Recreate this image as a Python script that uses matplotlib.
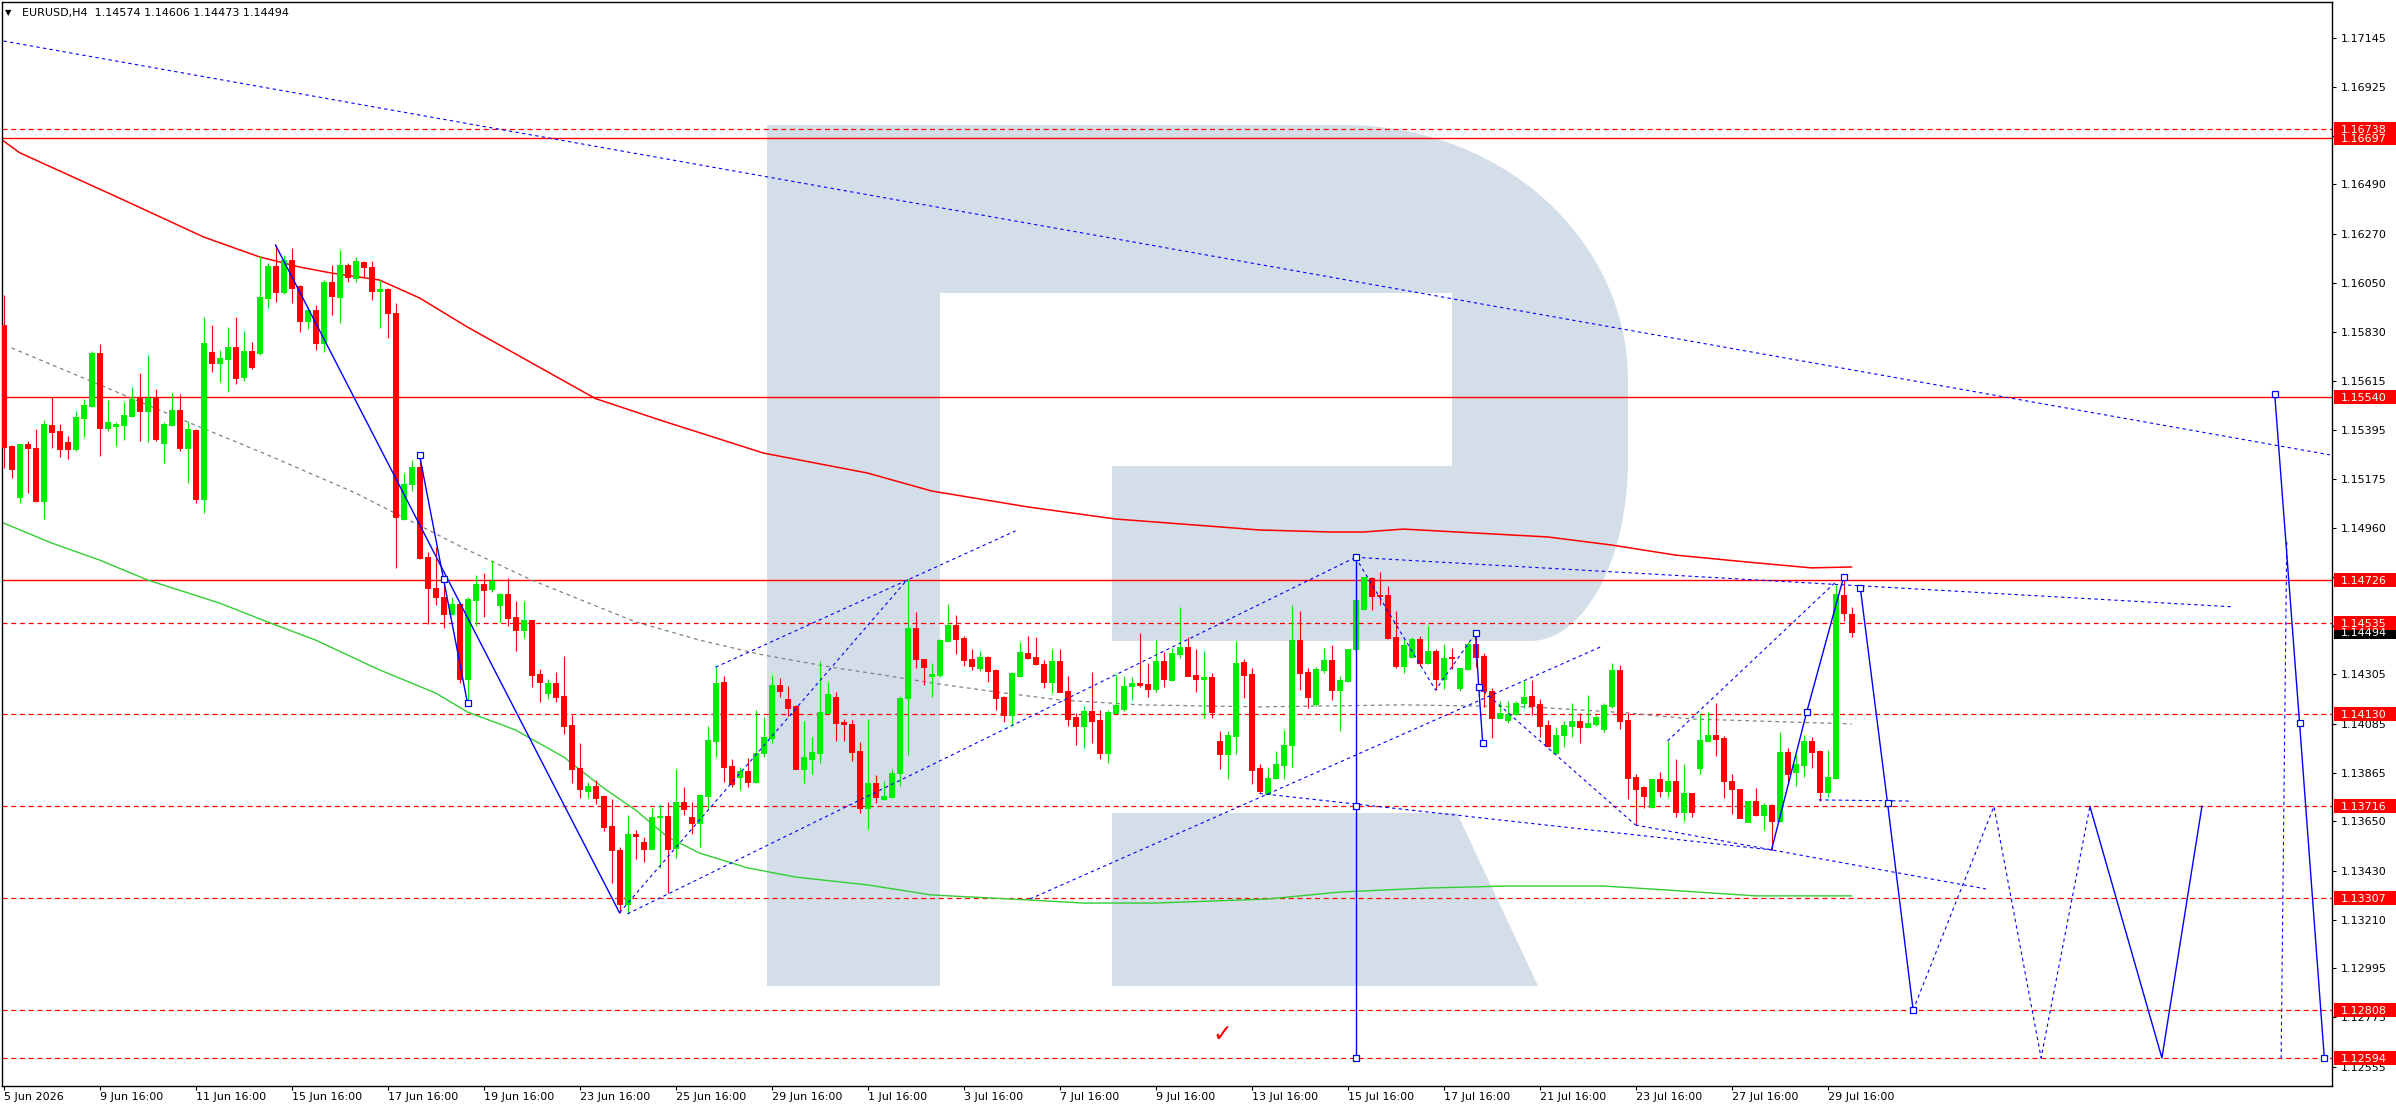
import numpy as np
import matplotlib
matplotlib.use('Agg')
import matplotlib.pyplot as plt
from matplotlib import transforms
from matplotlib.patches import Rectangle, Polygon

plt.rcParams['font.family'] = ['DejaVu Sans']

W, H = 2396, 1110

# EURUSD H4 candles, bar 0 = 5 Jun 2026 16:00
opens = [
    1.15863, 1.15324, 1.15095, 1.15333, 1.15316, 1.15080, 1.15417, 1.15391, 1.15341, 1.15312,
    1.15450, 1.15502, 1.15737, 1.15405, 1.15414, 1.15419, 1.15459, 1.15538, 1.15481, 1.15538,
    1.15338, 1.15417, 1.15484, 1.15316, 1.15395, 1.15088, 1.15743, 1.15695, 1.15712, 1.15765,
    1.15630, 1.15747, 1.15740, 1.15985, 1.16127, 1.16012, 1.16153, 1.16037, 1.15883, 1.15930,
    1.15785, 1.16054, 1.15990, 1.16131, 1.16072, 1.16146, 1.16121, 1.16017, 1.16024, 1.15915,
    1.14997, 1.15153, 1.15228, 1.14827, 1.14689, 1.14649, 1.14573, 1.14619, 1.14283, 1.14637,
    1.14708, 1.14686, 1.14615, 1.14664, 1.14561, 1.14503, 1.14548, 1.14307, 1.14221, 1.14265,
    1.14209, 1.14079, 1.13886, 1.13787, 1.13807, 1.13763, 1.13629, 1.13522, 1.13281, 1.13593,
    1.13558, 1.13526, 1.13668, 1.13673, 1.13532, 1.13736, 1.13671, 1.13644, 1.13764, 1.14009,
    1.14270, 1.13897, 1.13846, 1.13876, 1.13824, 1.13956, 1.14023, 1.14258, 1.14196, 1.14164,
    1.13885, 1.13929, 1.13956, 1.14134, 1.14203, 1.14093, 1.14084, 1.13963, 1.13707, 1.13819,
    1.13748, 1.13760, 1.13864, 1.14198, 1.14511, 1.14373, 1.14298, 1.14302, 1.14455, 1.14525,
    1.14469, 1.14374, 1.14334, 1.14384, 1.14324, 1.14204, 1.14124, 1.14298, 1.14400, 1.14382,
    1.14353, 1.14272, 1.14365, 1.14231, 1.14115, 1.14076, 1.14141, 1.14101, 1.13956, 1.14133,
    1.14149, 1.14254, 1.14266, 1.14262, 1.14239, 1.14365, 1.14280, 1.14397, 1.14427, 1.14302,
    1.14286, 1.14293, 1.14008, 1.13950, 1.14030, 1.14361, 1.14307, 1.13886, 1.13771, 1.13841,
    1.13901, 1.13990, 1.14458, 1.14317, 1.14173, 1.14324, 1.14369, 1.14235, 1.14275, 1.14418,
    1.14597, 1.14736, 1.14659, 1.14659, 1.14472, 1.14344, 1.14384, 1.14463, 1.14357, 1.14409,
    1.14285, 1.14383, 1.14246, 1.14329, 1.14442, 1.14387, 1.14232, 1.14112, 1.14102, 1.14127,
    1.14176, 1.14209, 1.14171, 1.14078, 1.13955, 1.14033, 1.14075, 1.14097, 1.14072, 1.14085,
    1.14061, 1.14165, 1.14325, 1.14102, 1.13846, 1.13801, 1.13712, 1.13838, 1.13786, 1.13830,
    1.13693, 1.13774, 1.13889, 1.14009, 1.14035, 1.14023, 1.13830, 1.13794, 1.13648, 1.13740,
    1.13678, 1.13722, 1.13652, 1.13957, 1.13871, 1.13901, 1.14008, 1.13963, 1.13779, 1.13844,
    1.14658, 1.14574]
highs = [
    1.15997, 1.15328, 1.15333, 1.15347, 1.15398, 1.15440, 1.15544, 1.15422, 1.15368, 1.15481,
    1.15533, 1.15749, 1.15779, 1.15529, 1.15432, 1.15521, 1.15585, 1.15651, 1.15730, 1.15576,
    1.15432, 1.15561, 1.15555, 1.15437, 1.15398, 1.15898, 1.15863, 1.15752, 1.15856, 1.15898,
    1.15838, 1.15786, 1.16171, 1.16139, 1.16220, 1.16176, 1.16205, 1.16042, 1.15942, 1.15953,
    1.16064, 1.16131, 1.16198, 1.16141, 1.16168, 1.16150, 1.16150, 1.16064, 1.16027, 1.15960,
    1.15205, 1.15262, 1.15284, 1.14852, 1.14871, 1.14733, 1.14652, 1.14622, 1.14652, 1.14749,
    1.14756, 1.14811, 1.14667, 1.14734, 1.14633, 1.14633, 1.14548, 1.14329, 1.14283, 1.14316,
    1.14387, 1.14124, 1.14000, 1.13827, 1.13834, 1.13767, 1.13749, 1.13537, 1.13678, 1.13611,
    1.13581, 1.13711, 1.13722, 1.13737, 1.13884, 1.13804, 1.13734, 1.13772, 1.14075, 1.14337,
    1.14298, 1.13926, 1.13893, 1.13931, 1.14146, 1.14117, 1.14302, 1.14290, 1.14253, 1.14169,
    1.14095, 1.14027, 1.14365, 1.14270, 1.14225, 1.14105, 1.14102, 1.14002, 1.14106, 1.13856,
    1.13830, 1.13882, 1.14209, 1.14729, 1.14581, 1.14373, 1.14355, 1.14461, 1.14619, 1.14570,
    1.14476, 1.14418, 1.14409, 1.14388, 1.14327, 1.14208, 1.14317, 1.14449, 1.14478, 1.14472,
    1.14369, 1.14418, 1.14418, 1.14298, 1.14131, 1.14164, 1.14315, 1.14146, 1.14146, 1.14302,
    1.14299, 1.14295, 1.14488, 1.14354, 1.14458, 1.14406, 1.14421, 1.14605, 1.14470, 1.14418,
    1.14409, 1.14310, 1.14052, 1.14052, 1.14454, 1.14372, 1.14332, 1.13905, 1.13890, 1.13963,
    1.14059, 1.14614, 1.14588, 1.14332, 1.14336, 1.14424, 1.14436, 1.14298, 1.14418, 1.14827,
    1.14741, 1.14741, 1.14763, 1.14699, 1.14588, 1.14461, 1.14473, 1.14478, 1.14521, 1.14416,
    1.14442, 1.14424, 1.14332, 1.14451, 1.14488, 1.14402, 1.14243, 1.14187, 1.14184, 1.14187,
    1.14276, 1.14280, 1.14194, 1.14102, 1.14069, 1.14099, 1.14176, 1.14131, 1.14213, 1.14124,
    1.14176, 1.14354, 1.14347, 1.14131, 1.13860, 1.13807, 1.13838, 1.13871, 1.14008, 1.13929,
    1.13906, 1.13774, 1.14127, 1.14139, 1.14176, 1.14030, 1.13860, 1.13794, 1.13740, 1.13797,
    1.13730, 1.13727, 1.14047, 1.13975, 1.13946, 1.14035, 1.14024, 1.13968, 1.13968, 1.14704,
    1.14738, 1.14606]
lows = [
    1.15224, 1.15179, 1.15068, 1.15115, 1.15075, 1.14997, 1.15313, 1.15273, 1.15267, 1.15303,
    1.15362, 1.15499, 1.15281, 1.15389, 1.15325, 1.15350, 1.15452, 1.15347, 1.15343, 1.15347,
    1.15249, 1.15413, 1.15303, 1.15160, 1.15071, 1.15023, 1.15655, 1.15611, 1.15566, 1.15600,
    1.15615, 1.15666, 1.15730, 1.15941, 1.15968, 1.16002, 1.15963, 1.15834, 1.15844, 1.15752,
    1.15744, 1.15908, 1.15874, 1.16057, 1.16057, 1.16076, 1.15975, 1.15851, 1.15807, 1.14778,
    1.14994, 1.15124, 1.14818, 1.14530, 1.14614, 1.14510, 1.14570, 1.14268, 1.14176, 1.14522,
    1.14563, 1.14674, 1.14540, 1.14522, 1.14411, 1.14469, 1.14250, 1.14183, 1.14197, 1.14183,
    1.14038, 1.13822, 1.13755, 1.13755, 1.13726, 1.13608, 1.13373, 1.13242, 1.13237, 1.13482,
    1.13470, 1.13525, 1.13440, 1.13329, 1.13487, 1.13678, 1.13593, 1.13533, 1.13705, 1.13935,
    1.13827, 1.13804, 1.13789, 1.13804, 1.13822, 1.13938, 1.14000, 1.14206, 1.14121, 1.13883,
    1.13819, 1.13859, 1.13908, 1.14131, 1.14009, 1.14009, 1.13920, 1.13685, 1.13614, 1.13733,
    1.13745, 1.13755, 1.13809, 1.13946, 1.14332, 1.14258, 1.14203, 1.14295, 1.14452, 1.14396,
    1.14342, 1.14324, 1.14320, 1.14272, 1.14146, 1.14094, 1.14079, 1.14295, 1.14374, 1.14347,
    1.14246, 1.14223, 1.14225, 1.14076, 1.13990, 1.13978, 1.14000, 1.13926, 1.13908, 1.14131,
    1.14143, 1.14191, 1.14250, 1.14206, 1.14228, 1.14250, 1.14275, 1.14376, 1.14298, 1.14228,
    1.14112, 1.14112, 1.13884, 1.13838, 1.13950, 1.14201, 1.13816, 1.13774, 1.13770, 1.13839,
    1.13839, 1.13893, 1.14235, 1.14156, 1.14165, 1.14312, 1.14191, 1.14054, 1.14272, 1.14414,
    1.14592, 1.14592, 1.14614, 1.14463, 1.14335, 1.14310, 1.14381, 1.14344, 1.14351, 1.14235,
    1.14240, 1.14329, 1.14232, 1.14325, 1.14340, 1.14161, 1.14020, 1.14109, 1.14087, 1.14124,
    1.14154, 1.14124, 1.14025, 1.13980, 1.13952, 1.13983, 1.14025, 1.14001, 1.14067, 1.14075,
    1.14048, 1.14157, 1.14063, 1.13750, 1.13633, 1.13707, 1.13710, 1.13760, 1.13760, 1.13671,
    1.13650, 1.13668, 1.13861, 1.14008, 1.13941, 1.13755, 1.13681, 1.13666, 1.13645, 1.13672,
    1.13611, 1.13522, 1.13648, 1.13814, 1.13806, 1.13846, 1.13887, 1.13742, 1.13760, 1.13838,
    1.14545, 1.14473]
closes = [
    1.15318, 1.15220, 1.15333, 1.15313, 1.15078, 1.15422, 1.15388, 1.15312, 1.15309, 1.15453,
    1.15507, 1.15740, 1.15405, 1.15431, 1.15422, 1.15462, 1.15532, 1.15481, 1.15538, 1.15353,
    1.15422, 1.15484, 1.15316, 1.15398, 1.15088, 1.15782, 1.15692, 1.15715, 1.15765, 1.15628,
    1.15747, 1.15677, 1.15988, 1.16127, 1.16012, 1.16153, 1.16030, 1.15883, 1.15930, 1.15785,
    1.16057, 1.15994, 1.16131, 1.16076, 1.16149, 1.16121, 1.16017, 1.16023, 1.15915, 1.15008,
    1.15154, 1.15228, 1.14823, 1.14689, 1.14649, 1.14573, 1.14619, 1.14283, 1.14640, 1.14708,
    1.14682, 1.14720, 1.14664, 1.14558, 1.14503, 1.14548, 1.14302, 1.14273, 1.14265, 1.14206,
    1.14075, 1.13883, 1.13792, 1.13807, 1.13755, 1.13626, 1.13522, 1.13281, 1.13593, 1.13585,
    1.13526, 1.13669, 1.13673, 1.13526, 1.13736, 1.13705, 1.13644, 1.13767, 1.14013, 1.14265,
    1.13893, 1.13815, 1.13876, 1.13824, 1.13953, 1.14024, 1.14258, 1.14233, 1.14157, 1.13885,
    1.13935, 1.13958, 1.14136, 1.14218, 1.14090, 1.14082, 1.13960, 1.13707, 1.13819, 1.13760,
    1.13763, 1.13864, 1.14198, 1.14511, 1.14373, 1.14337, 1.14307, 1.14458, 1.14525, 1.14461,
    1.14369, 1.14342, 1.14384, 1.14320, 1.14201, 1.14124, 1.14310, 1.14405, 1.14379, 1.14351,
    1.14272, 1.14365, 1.14228, 1.14106, 1.14076, 1.14141, 1.14098, 1.13956, 1.14138, 1.14168,
    1.14253, 1.14266, 1.14259, 1.14239, 1.14365, 1.14283, 1.14400, 1.14427, 1.14298, 1.14286,
    1.14292, 1.14138, 1.13950, 1.14034, 1.14357, 1.14302, 1.13879, 1.13785, 1.13844, 1.13905,
    1.13990, 1.14458, 1.14312, 1.14205, 1.14329, 1.14369, 1.14235, 1.14280, 1.14418, 1.14637,
    1.14739, 1.14654, 1.14654, 1.14469, 1.14342, 1.14436, 1.14463, 1.14357, 1.14409, 1.14285,
    1.14378, 1.14377, 1.14332, 1.14442, 1.14384, 1.14232, 1.14112, 1.14131, 1.14128, 1.14176,
    1.14203, 1.14165, 1.14075, 1.13986, 1.14033, 1.14078, 1.14097, 1.14072, 1.14087, 1.14115,
    1.14169, 1.14325, 1.14099, 1.13844, 1.13795, 1.13764, 1.13838, 1.13786, 1.13830, 1.13693,
    1.13774, 1.13693, 1.14013, 1.14035, 1.14017, 1.13831, 1.13792, 1.13666, 1.13740, 1.13678,
    1.13722, 1.13652, 1.13957, 1.13861, 1.13904, 1.14008, 1.13960, 1.13779, 1.13846, 1.14662,
    1.14577, 1.14494]

# moving averages, read at a handful of bars
ma_red_bars = [0, 2, 15, 25, 32, 37, 41, 47, 52, 58, 74, 82, 95, 108, 116, 128, 139, 149,
               157, 166, 170, 175, 193, 201, 209, 218, 226, 231]
ma_red = [1.16684, 1.16632, 1.16421, 1.16256, 1.16167, 1.16122, 1.16095, 1.16064, 1.15984,
          1.15854, 1.15535, 1.15440, 1.15292, 1.15203, 1.15123, 1.15052, 1.14998, 1.14971,
          1.14949, 1.14940, 1.14940, 1.14953, 1.14918, 1.14882, 1.14837, 1.14806, 1.14780, 1.14784]
ma_gray_bars = [1, 13, 23, 33, 44, 58, 66, 79, 87, 95, 104, 110, 116, 124, 132, 142, 157,
                175, 191, 203, 211, 231]
ma_gray = [1.15761, 1.15582, 1.15431, 1.15284, 1.15114, 1.14860, 1.14726, 1.14539, 1.14458,
           1.14391, 1.14334, 1.14302, 1.14267, 1.14227, 1.14191, 1.14169, 1.14160, 1.14169,
           1.14160, 1.14133, 1.14106, 1.14084]
ma_green_bars = [0, 6, 12, 18, 27, 33, 39, 47, 54, 58, 64, 70, 75, 79, 83, 87, 93, 99, 108,
                 116, 128, 135, 144, 158, 167, 178, 188, 200, 208, 219, 231]
ma_green = [1.14980, 1.14891, 1.14815, 1.14726, 1.14623, 1.14539, 1.14458, 1.14325, 1.14222,
            1.14137, 1.14057, 1.13937, 1.13798, 1.13700, 1.13580, 1.13508, 1.13442, 1.13401,
            1.13366, 1.13321, 1.13299, 1.13285, 1.13285, 1.13303, 1.13334, 1.13352, 1.13361,
            1.13361, 1.13343, 1.13317, 1.13317]

# horizontal levels
levels_solid = [1.16697, 1.15540, 1.14726]
levels_dashed = [1.16738, 1.14535, 1.14130, 1.13716, 1.13307, 1.12808, 1.12594]
last_price = 1.14494

# analyst drawings (bar, price)
dotted_lines = [
    [(0.0, 1.17130), (290.8, 1.15284)],
    [(77, 1.13242), (113, 1.14729)],
    [(78, 1.13237), (169, 1.14827)],
    [(89, 1.14337), (126.5, 1.14945)],
    [(128.3, 1.13303), (199.6, 1.14427)],
    [(169, 1.14827), (278.8, 1.14606)],
    [(169, 1.14827), (179, 1.14235), (184, 1.14488)],
    [(184.4, 1.14249), (204, 1.13633)],
    [(157, 1.13774), (221, 1.13522)],
    [(204, 1.13633), (247.8, 1.13348)],
    [(208, 1.14008), (228.9, 1.14713)],
    [(226.9, 1.13745), (238.4, 1.13740)],
    [(238.7, 1.12808), (248.8, 1.13716), (254.7, 1.12594), (260.8, 1.13716)],
    [(285.4, 1.14896), (284.7, 1.12594)],
]
solid_lines = [
    [(34, 1.16220), (77, 1.13242)],
    [(52, 1.15284), (55, 1.14730), (58, 1.14176)],
    [(169, 1.14827), (169, 1.13716), (169, 1.12594)],
    [(184, 1.14488), (184.4, 1.14249), (184.9, 1.13999)],
    [(221, 1.13522), (225.4, 1.14137), (230, 1.14738)],
    [(232.1, 1.14690), (235.5, 1.13731), (238.7, 1.12808)],
    [(260.8, 1.13716), (269.8, 1.12594), (274.8, 1.13716)],
    [(283.9, 1.15554), (287.0, 1.14090), (290.1, 1.12594)],
]
squares = [(52, 1.15284), (55, 1.14730), (58, 1.14176), (169, 1.14827), (169, 1.13716),
           (169, 1.12594), (184, 1.14488), (184.4, 1.14249), (184.9, 1.13999),
           (225.4, 1.14137), (230, 1.14738), (232.1, 1.14690), (235.5, 1.13731),
           (238.7, 1.12808), (283.9, 1.15554), (287.0, 1.14090), (290.1, 1.12594)]

ytick_vals = [1.17145, 1.16925, 1.16705, 1.16490, 1.16270, 1.16050, 1.15830, 1.15615, 1.15395,
              1.15175, 1.14960, 1.14740, 1.14520, 1.14305, 1.14085, 1.13865, 1.13650, 1.13430,
              1.13210, 1.12995, 1.12775, 1.12555]
xtick_labels = ['5 Jun 2026', '9 Jun 16:00', '11 Jun 16:00', '15 Jun 16:00', '17 Jun 16:00',
                '19 Jun 16:00', '23 Jun 16:00', '25 Jun 16:00', '29 Jun 16:00', '1 Jul 16:00',
                '3 Jul 16:00', '7 Jul 16:00', '9 Jul 16:00', '13 Jul 16:00', '15 Jul 16:00',
                '17 Jul 16:00', '21 Jul 16:00', '23 Jul 16:00', '27 Jul 16:00', '29 Jul 16:00']
xtick_bars = [12 * k for k in range(len(xtick_labels))]

GREEN = '#00ee00'
RED = '#ff0000'
BLUE = '#0000ff'

fig = plt.figure(figsize=(W / 100, H / 100), dpi=100)
ax = fig.add_axes([2 / W, 24 / H, 2330 / W, 1084 / H])
ax.set_xlim(-0.19, 291.06)
ax.set_ylim(1.12469, 1.17304)

# watermark "R" in pixel coordinates
pix = transforms.Affine2D().scale(1 / W, -1 / H).translate(0, 1) + fig.transFigure
def arc(cx, cy, rx, ry, a0, a1, n=40):
    t = np.radians(np.linspace(a0, a1, n))
    return list(zip(cx + rx * np.cos(t), cy + ry * np.sin(t)))
body = [(767, 125), (1345, 125)] + arc(1345, 380, 283, 255, -90, 0) + \
       arc(1530, 460, 98, 181, 0, 90) + \
       [(1112, 641), (1112, 466), (1452, 466), (1452, 293), (940, 293), (940, 986), (767, 986)]
leg = [(1112, 813), (1457, 813), (1538, 986), (1112, 986)]
for shape in (body, leg):
    ax.add_patch(Polygon(shape, closed=True, transform=pix, fc='#d4dee9', ec='none', zorder=0.5))

# levels
for p in levels_solid:
    ax.axhline(p, color=RED, lw=1.0, zorder=1)
for p in levels_dashed:
    ax.axhline(p, color=RED, lw=0.9, ls=(0, (4, 3)), zorder=1)

# moving averages
ax.plot(ma_red_bars, ma_red, color=RED, lw=1.1, zorder=2)
ax.plot(ma_green_bars, ma_green, color='#32cd32', lw=1.0, zorder=2)
ax.plot(ma_gray_bars, ma_gray, color='#808080', lw=0.9, ls=(0, (3, 3)), zorder=2)

# candles
x = np.arange(len(opens))
o, h, l, c = (np.array(v) for v in (opens, highs, lows, closes))
col = np.where(c >= o, GREEN, RED)
ax.vlines(x, l, h, colors=col, lw=0.8, zorder=3)
ax.bar(x, np.abs(c - o), bottom=np.minimum(o, c), width=0.52, color=col, edgecolor=col,
       lw=0.7, zorder=4)

# drawings
for pts in dotted_lines:
    xs, ys = zip(*pts)
    ax.plot(xs, ys, color=BLUE, lw=0.8, ls=(0, (3, 3)), zorder=5)
for pts in solid_lines:
    xs, ys = zip(*pts)
    ax.plot(xs, ys, color=BLUE, lw=1.0, zorder=5)
sx, sy = zip(*squares)
ax.plot(sx, sy, ls='none', marker='s', ms=4, mfc='white', mec=BLUE, mew=0.9, zorder=6)

ax.text(152.3, 1.12700, '\u2713', color=RED, fontsize=17, ha='center', va='center', zorder=6)

# axes styling
for s in ax.spines.values():
    s.set_color('black')
    s.set_linewidth(1.0)
ax.yaxis.tick_right()
ax.set_yticks(ytick_vals)
ax.set_yticklabels([f'{v:.5f}' for v in ytick_vals])
ax.tick_params(axis='y', direction='out', length=3, width=0.8, pad=3.5, labelsize=8, colors='black')
ax.set_xticks(xtick_bars)
ax.set_xticklabels(xtick_labels)
ax.tick_params(axis='x', direction='out', length=3, width=0.8, pad=1, labelsize=8, colors='black')
for lab in ax.get_xticklabels():
    lab.set_ha('left')

# price tags on the right
tag = transforms.blended_transform_factory(fig.transFigure, ax.transData)
hh = 7 * 0.0000446
tags = [(1.16738, RED), (1.16697, RED), (1.15540, RED), (1.14726, RED), (last_price, 'black'),
        (1.14535, RED), (1.14130, RED), (1.13716, RED), (1.13307, RED), (1.12808, RED),
        (1.12594, RED)]
for p, fc in tags:
    fig.add_artist(Rectangle((2334 / W, p - hh), 62 / W, 2 * hh, transform=tag, fc=fc, ec='none'))
    fig.text(2341 / W, p, f'{p:.5f}', transform=tag, color='white', fontsize=8, va='center_baseline')

# header
fig.text(5 / W, 1 - 13 / H, '\u25bc', fontsize=6, va='center', color='black')
fig.text(22 / W, 1 - 13 / H, 'EURUSD,H4  1.14574 1.14606 1.14473 1.14494', fontsize=8,
         va='center', color='black')

fig.savefig('out.png', dpi=100)
